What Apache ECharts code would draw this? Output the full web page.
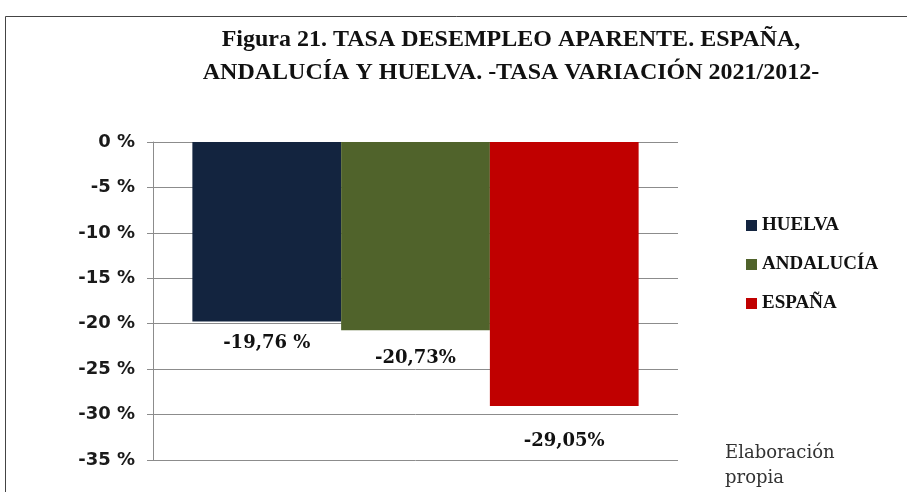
<!DOCTYPE html>
<html>
<head>
<meta charset="utf-8">
<script src="https://cdn.jsdelivr.net/npm/echarts@6/dist/echarts.min.js"></script>
<style>
  html, body { margin: 0; padding: 0; background: #fff; }
  #chart { width: 907px; height: 492px; }
</style>
</head>
<body>
<div id="chart"></div>
<script>
// datos
const categorias = ['Tasa variación 2021/2012'];
const series = ['HUELVA', 'ANDALUCÍA', 'ESPAÑA'];
const valores = [-19.76, -20.73, -29.05];
const etiquetas = ['-19,76 %', '-20,73%', '-29,05%'];
const colores = ['#13243f', '#50632b', '#c00000'];
const distancias = [13, 19, 26];

const myChart = echarts.init(document.getElementById('chart'), null, { renderer: 'canvas' });

const option = {
    backgroundColor: '#ffffff',
    animation: false,
    title: {
        text: 'Figura 21. TASA DESEMPLEO APARENTE. ESPAÑA,\nANDALUCÍA Y HUELVA. -TASA VARIACIÓN 2021/2012-',
        left: 506,
        top: 18,
        textAlign: 'center',
        textStyle: {
            fontFamily: 'Liberation Serif',
            fontWeight: 'bold',
            fontSize: 24,
            lineHeight: 33,
            color: '#111'
        }
    },
    legend: {
        orient: 'vertical',
        left: 741,
        top: 211,
        itemWidth: 11,
        itemHeight: 11,
        itemGap: 20,
        icon: 'rect',
        textStyle: {
            fontFamily: 'Liberation Serif',
            fontWeight: 'bold',
            fontSize: 19,
            color: '#111'
        },
        data: series
    },
    grid: {
        left: 153,
        right: 229,
        top: 142,
        bottom: 32
    },
    xAxis: {
        type: 'category',
        data: categorias,
        axisLine: { show: false },
        axisTick: { show: false },
        axisLabel: { show: false }
    },
    yAxis: {
        type: 'value',
        min: -35,
        max: 0,
        interval: 5,
        axisLine: { show: true, lineStyle: { color: '#8c8c8c', width: 1 } },
        axisTick: { show: true, length: 6, lineStyle: { color: '#8c8c8c' } },
        splitLine: { show: true, lineStyle: { color: '#8c8c8c', width: 1 } },
        axisLabel: {
            formatter: '{value} %',
            margin: 18,
            fontFamily: 'DejaVu Sans',
            fontWeight: 'bold',
            fontSize: 18,
            color: '#1a1a1a'
        }
    },
    series: series.map((nombre, i) => ({
        name: nombre,
        type: 'bar',
        data: [valores[i]],
        barGap: '0%',
        barCategoryGap: '15%',
        itemStyle: { color: colores[i] },
        label: {
            show: true,
            position: 'bottom',
            distance: distancias[i],
            formatter: () => etiquetas[i],
            fontFamily: 'DejaVu Serif',
            fontWeight: 'bold',
            fontSize: 18,
            color: '#111'
        }
    })),
    graphic: [
        {
            type: 'rect',
            shape: { x: 5.5, y: 16.5, width: 1000, height: 600 },
            style: { fill: 'none', stroke: '#444', lineWidth: 1 },
            silent: true
        },
        {
            type: 'text',
            left: 725,
            top: 441,
            style: {
                text: 'Elaboración\npropia',
                fontFamily: 'DejaVu Serif',
                fontSize: 18,
                lineHeight: 25,
                fill: '#333'
            }
        }
    ]
};

myChart.setOption(option);
window.addEventListener('resize', () => {
    myChart.resize();
});
</script>
</body>
</html>
